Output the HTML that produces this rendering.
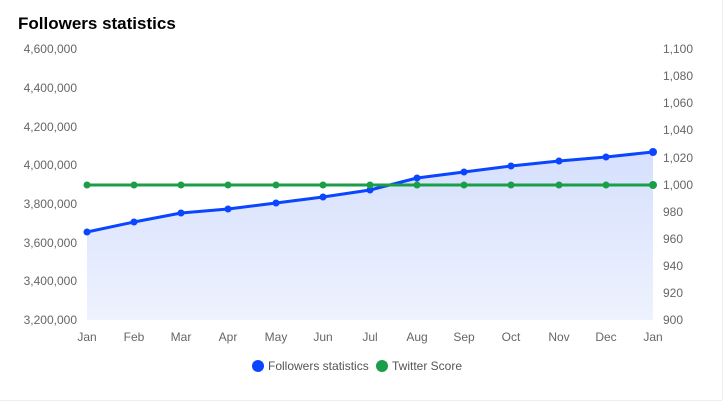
<!DOCTYPE html>
<html><head><style>
body{margin:0;background:#fff;}
svg text{font-family:"Liberation Sans",Arial,sans-serif;}
</style></head><body>
<svg width="726" height="404" viewBox="0 0 726 404" xmlns="http://www.w3.org/2000/svg">
<rect x="0" y="0" width="722" height="400" fill="#fff"/>
<line x1="722.5" y1="0" x2="722.5" y2="400" stroke="#eee"/>
<line x1="0" y1="400.5" x2="722" y2="400.5" stroke="#eee"/>
<text x="18" y="29" font-size="17" font-weight="bold" fill="#000">Followers statistics</text>
<defs><linearGradient id="g" x1="0" y1="0" x2="0" y2="1"><stop offset="0" stop-color="#d6e0fd"/><stop offset="1" stop-color="#eef2fe"/></linearGradient></defs>
<g font-size="12" fill="#666" text-anchor="end">
<text x="77" y="53">4,600,000</text><text x="77" y="92">4,400,000</text><text x="77" y="131">4,200,000</text><text x="77" y="169">4,000,000</text><text x="77" y="208">3,800,000</text><text x="77" y="247">3,600,000</text><text x="77" y="285">3,400,000</text><text x="77" y="324">3,200,000</text>
</g>
<g font-size="12" fill="#666">
<text x="663" y="53">1,100</text><text x="663" y="80">1,080</text><text x="663" y="107">1,060</text><text x="663" y="134">1,040</text><text x="663" y="162">1,020</text><text x="663" y="189">1,000</text><text x="663" y="216">980</text><text x="663" y="243">960</text><text x="663" y="270">940</text><text x="663" y="297">920</text><text x="663" y="324">900</text>
</g>
<path d="M87,232 L134,222 L181,213 L228,209 L276,203 L323,197 L370,190 L417,178 L464,172 L511,166 L559,161 L606,157 L653,152 L653,320 L87,320 Z" fill="url(#g)"/>
<polyline points="87,232 134,222 181,213 228,209 276,203 323,197 370,190 417,178 464,172 511,166 559,161 606,157 653,152" fill="none" stroke="#0a45ff" stroke-width="3" stroke-linejoin="round"/>
<line x1="87" y1="185" x2="653" y2="185" stroke="#1a9e48" stroke-width="3"/>
<g fill="#0a45ff">
<circle cx="87" cy="232" r="3.5"/><circle cx="134" cy="222" r="3.5"/><circle cx="181" cy="213" r="3.5"/><circle cx="228" cy="209" r="3.5"/><circle cx="276" cy="203" r="3.5"/><circle cx="323" cy="197" r="3.5"/><circle cx="370" cy="190" r="3.5"/><circle cx="417" cy="178" r="3.5"/><circle cx="464" cy="172" r="3.5"/><circle cx="511" cy="166" r="3.5"/><circle cx="559" cy="161" r="3.5"/><circle cx="606" cy="157" r="3.5"/><circle cx="653" cy="152" r="4"/>
</g>
<g fill="#1a9e48">
<circle cx="87" cy="185" r="3.5"/><circle cx="134" cy="185" r="3.5"/><circle cx="181" cy="185" r="3.5"/><circle cx="228" cy="185" r="3.5"/><circle cx="276" cy="185" r="3.5"/><circle cx="323" cy="185" r="3.5"/><circle cx="370" cy="185" r="3.5"/><circle cx="417" cy="185" r="3.5"/><circle cx="464" cy="185" r="3.5"/><circle cx="511" cy="185" r="3.5"/><circle cx="559" cy="185" r="3.5"/><circle cx="606" cy="185" r="3.5"/><circle cx="653" cy="185" r="4"/>
</g>
<g font-size="12" fill="#666" text-anchor="middle">
<text x="87" y="341">Jan</text><text x="134" y="341">Feb</text><text x="181" y="341">Mar</text><text x="228" y="341">Apr</text><text x="276" y="341">May</text><text x="323" y="341">Jun</text><text x="370" y="341">Jul</text><text x="417" y="341">Aug</text><text x="464" y="341">Sep</text><text x="511" y="341">Oct</text><text x="559" y="341">Nov</text><text x="606" y="341">Dec</text><text x="653" y="341">Jan</text>
</g>
<circle cx="258" cy="366" r="6" fill="#0a45ff"/>
<text x="268" y="370" font-size="12" fill="#555">Followers statistics</text>
<circle cx="382" cy="366" r="6" fill="#1a9e48"/>
<text x="392" y="370" font-size="12" fill="#555">Twitter Score</text>
</svg>
</body></html>
